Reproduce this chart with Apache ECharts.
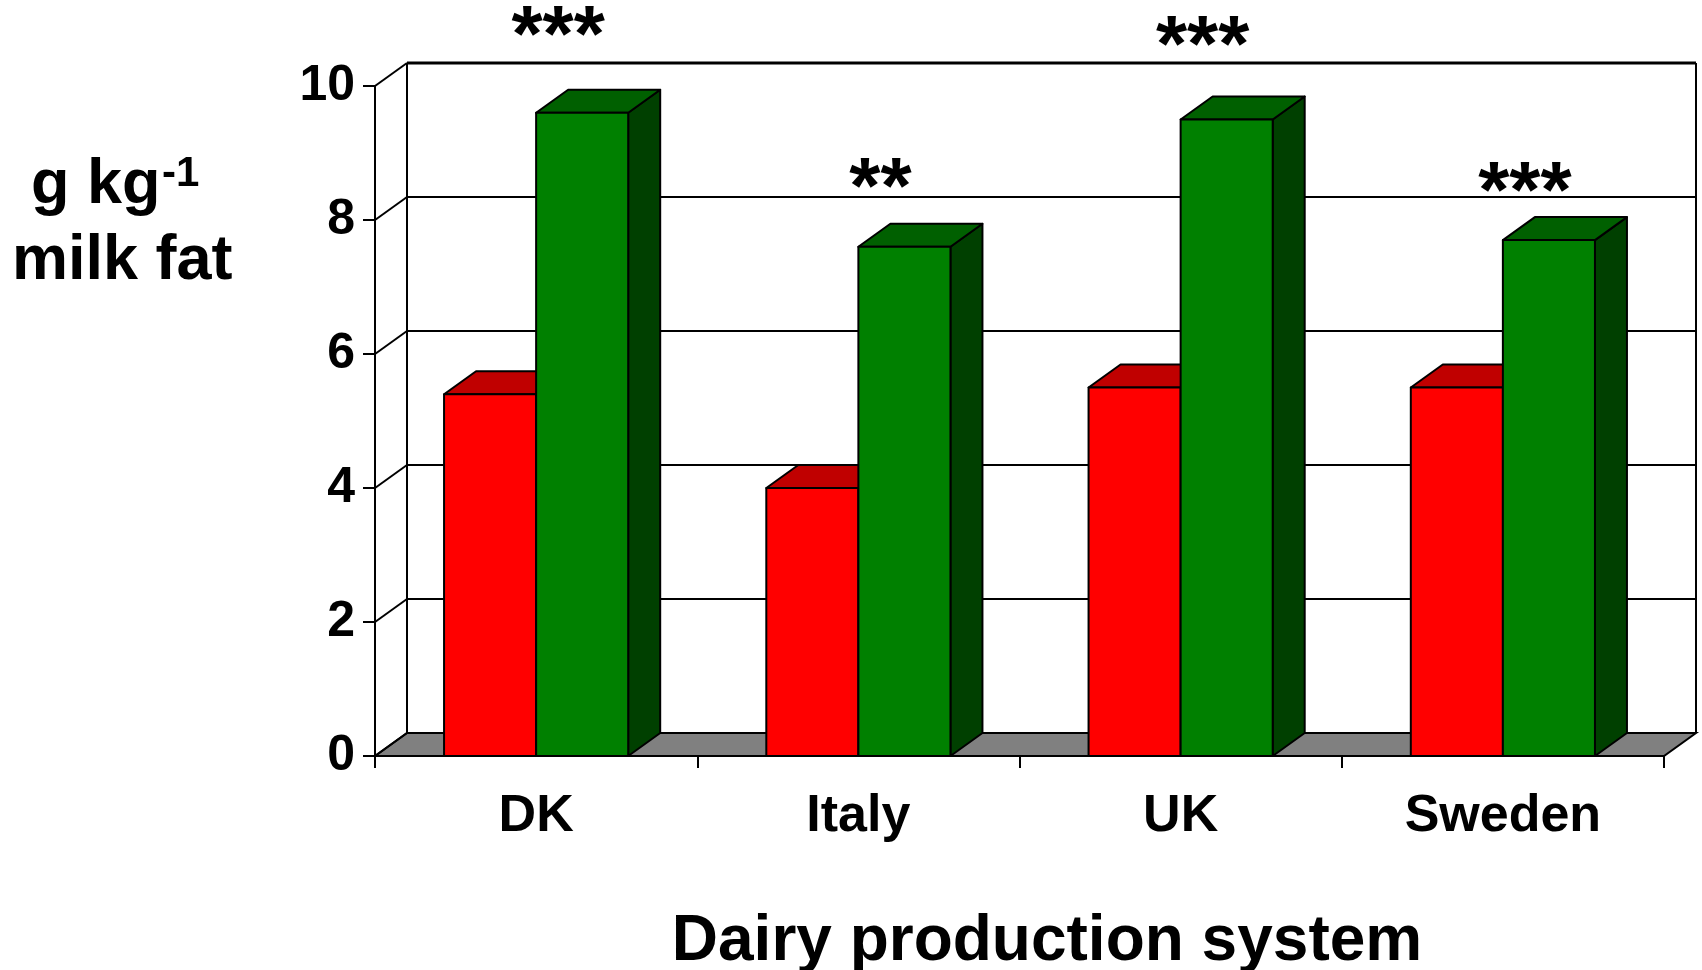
<!DOCTYPE html>
<html>
<head>
<meta charset="utf-8">
<title>Milk fat by dairy production system</title>
<script src="https://cdn.jsdelivr.net/npm/echarts@6/dist/echarts.min.js"></script>
<style>
  html, body { margin: 0; padding: 0; background: #fff; }
  #chart { width: 1702px; height: 970px; }
</style>
</head>
<body>
<div id="chart"></div>
<script>
// ---- data ----
const categories = ['DK', 'Italy', 'UK', 'Sweden'];
const conventional = [5.4, 4.0, 5.5, 5.5];   // red bars
const organic = [9.6, 7.6, 9.5, 7.7];        // green bars
const significance = ['***', '**', '***', '***'];
const markLevel = [10.7, 8.43, 10.56, 8.37]; // height (axis units) of each significance mark
const yTicks = [0, 2, 4, 6, 8, 10];

// ---- styling ----
const FONT = '"Liberation Sans", Arial, Helvetica, sans-serif';
const DX = 32, DY = -23;            // oblique depth of the 3-D box
const BAR_RATIO = 1 / 3.5;          // two bars + 150% gap per category
const STAR_SHIFT = 22;
const palette = [
  { front: '#ff0000', top: '#c00000', side: '#800000' },
  { front: '#008000', top: '#006000', side: '#004000' }
];

const chart = echarts.init(document.getElementById('chart'), null, { renderer: 'canvas' });

function edges(api) {
  const bw = api.size([1, 0])[0];
  const x0 = api.coord([0, 0])[0] - bw / 2;
  const x1 = api.coord([categories.length - 1, 0])[0] + bw / 2;
  return { x0, x1, bw };
}

// walls, gridlines and floor
function renderFrame(params, api) {
  const { x0, x1 } = edges(api);
  const y = v => api.coord([0, v])[1];
  const y0 = y(0), yMax = y(yTicks[yTicks.length - 1]);
  const children = [];
  children.push({
    type: 'polygon',
    shape: { points: [[x0, y0], [x1, y0], [x1 + DX, y0 + DY], [x0 + DX, y0 + DY]] },
    style: { fill: '#808080', stroke: '#000', lineWidth: 2 }
  });
  yTicks.forEach((v, i) => {
    const yy = y(v);
    if (i > 0) {
      children.push({
        type: 'line',
        shape: { x1: x0 + DX, y1: yy + DY, x2: x1 + DX, y2: yy + DY },
        style: { stroke: '#000', lineWidth: i === yTicks.length - 1 ? 3 : 2 }
      });
    }
    children.push({
      type: 'line',
      shape: { x1: x0, y1: yy, x2: x0 + DX, y2: yy + DY },
      style: { stroke: '#000', lineWidth: 2 }
    });
  });
  [x0 + DX, x1 + DX].forEach(xx => {
    children.push({
      type: 'line',
      shape: { x1: xx, y1: y0 + DY, x2: xx, y2: yMax + DY },
      style: { stroke: '#000', lineWidth: 2 }
    });
  });
  return { type: 'group', children };
}

function makeBarRenderer(seriesIdx) {
  const c = palette[seriesIdx];
  return function (params, api) {
    const idx = api.value(0);
    const [cx, yt] = api.coord([idx, api.value(1)]);
    const yb = api.coord([idx, 0])[1];
    const w = api.size([1, 0])[0] * BAR_RATIO;
    const xl = seriesIdx === 0 ? cx - w : cx;
    const xr = xl + w;
    const stroke = { stroke: '#000', lineWidth: 2, lineJoin: 'round' };
    return {
      type: 'group',
      children: [
        { type: 'polygon', shape: { points: [[xr, yb], [xr + DX, yb + DY], [xr + DX, yt + DY], [xr, yt]] },
          style: Object.assign({ fill: c.side }, stroke) },
        { type: 'polygon', shape: { points: [[xl, yt], [xr, yt], [xr + DX, yt + DY], [xl + DX, yt + DY]] },
          style: Object.assign({ fill: c.top }, stroke) },
        { type: 'rect', shape: { x: xl, y: yt, width: w, height: yb - yt },
          style: Object.assign({ fill: c.front }, stroke) }
      ]
    };
  };
}

function renderMark(params, api) {
  const idx = api.value(0);
  const [cx, yy] = api.coord([idx, api.value(1)]);
  return {
    type: 'text',
    x: cx + STAR_SHIFT,
    y: yy,
    style: {
      text: significance[idx],
      fill: '#000',
      font: 'bold 80px ' + FONT,
      align: 'center',
      verticalAlign: 'middle'
    }
  };
}

const option = {
  animation: false,
  backgroundColor: '#ffffff',
  grid: { left: 375, right: 38, top: 86, bottom: 214 },
  xAxis: {
    type: 'category',
    data: categories,
    boundaryGap: true,
    axisLine: { show: true, lineStyle: { color: '#000', width: 2 } },
    axisTick: { show: true, length: 12, lineStyle: { color: '#000', width: 2 } },
    axisLabel: { color: '#000', fontSize: 52, fontWeight: 'bold', fontFamily: FONT, margin: 35 },
    splitLine: { show: false }
  },
  yAxis: {
    type: 'value',
    min: 0, max: 10, interval: 2,
    axisLine: { show: true, lineStyle: { color: '#000', width: 2 } },
    axisTick: { show: true, length: 12, lineStyle: { color: '#000', width: 2 } },
    axisLabel: { color: '#000', fontSize: 50, fontWeight: 'bold', fontFamily: FONT, margin: 20 },
    splitLine: { show: false }
  },
  graphic: [
    { type: 'text', x: 31, y: 186,
      style: { text: 'g kg', font: 'bold 63px ' + FONT, fill: '#000', verticalAlign: 'middle' } },
    { type: 'text', x: 162, y: 174,
      style: { text: '-1', font: 'bold 42px ' + FONT, fill: '#000', verticalAlign: 'middle' } },
    { type: 'text', x: 12, y: 262,
      style: { text: 'milk fat', font: 'bold 63px ' + FONT, fill: '#000', verticalAlign: 'middle' } },
    { type: 'text', x: 1047, y: 942,
      style: { text: 'Dairy production system', font: 'bold 64px ' + FONT, fill: '#000',
               align: 'center', verticalAlign: 'middle' } }
  ],
  series: [
    { type: 'custom', name: 'frame', z: 1, silent: true,
      renderItem: renderFrame, data: [[0, 0]] },
    { type: 'custom', name: 'Conventional', z: 3,
      renderItem: makeBarRenderer(0), data: conventional.map((v, i) => [i, v]) },
    { type: 'custom', name: 'Organic', z: 4,
      renderItem: makeBarRenderer(1), data: organic.map((v, i) => [i, v]) },
    { type: 'custom', name: 'significance', z: 5, silent: true,
      renderItem: renderMark, data: markLevel.map((v, i) => [i, v]) }
  ]
};

chart.setOption(option);
</script>
</body>
</html>
